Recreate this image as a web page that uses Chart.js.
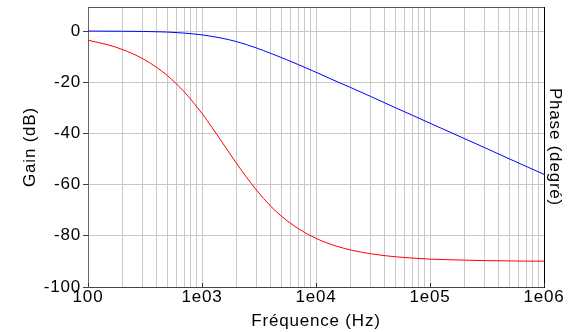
<!DOCTYPE html>
<html>
<head>
<meta charset="utf-8">
<script src="https://cdn.jsdelivr.net/npm/chart.js@4"></script>
<style>
  html, body { margin: 0; padding: 0; background: #fff; }
  #wrap { width: 577px; height: 332px; position: relative; }
</style>
</head>
<body>
<div id="wrap"><canvas id="chart_bode"></canvas></div>
<script>
// valeurs
var freq  = [100, 150, 200, 300, 400, 500, 700, 1000, 1500, 2000, 3000, 4000, 5000, 7000,
             1e4, 1.5e4, 2e4, 3e4, 5e4, 7e4, 1e5, 2e5, 3e5, 5e5, 7e5, 1e6];
var gain  = [0, -0.04, -0.07, -0.15, -0.27, -0.4, -0.8, -1.5, -2.8, -4.1, -6.6, -8.7, -10.4, -13.1,
             -16.1, -19.6, -22.0, -25.5, -30.0, -32.9, -36.0, -42.0, -45.5, -50.0, -52.9, -56.0];
var phase = [-3.6, -5.4, -7.2, -10.7, -14.2, -17.5, -23.8, -32.2, -43.4, -51.6, -62.1, -68.4, -72.4, -77.2,
             -81.0, -84.0, -85.5, -87.0, -88.2, -88.7, -89.1, -89.5, -89.7, -89.8, -89.9, -89.9];

var xMajor = [100, 1000, 10000, 100000, 1000000];
var xTickLabels = ["100", "1e03", "1e04", "1e05", "1e06"];
var yTicks = [-100, -80, -60, -40, -20, 0];

function toPoints(ys) {
  var pts = [];
  for (var i = 0; i < freq.length; i++) {
    pts.push({ x: freq[i], y: ys[i] });
  }
  return pts;
}

// grille log : 1..9 pour chaque décade
function xGridValues() {
  var vals = [];
  for (var d = 0; d < xMajor.length - 1; d++) {
    for (var k = 1; k < 10; k++) vals.push(xMajor[d] * k);
  }
  vals.push(xMajor[xMajor.length - 1]);
  return vals;
}

function noPad(scale) {
  scale.paddingTop = 0;
  scale.paddingBottom = 0;
  scale.paddingLeft = 0;
  scale.paddingRight = 0;
}

// texte un peu espacé comme sur l'original
var spacing = {
  id: 'spacing',
  beforeLayout: function (chart) { chart.ctx.letterSpacing = '0.8px'; },
  beforeDraw: function (chart) { chart.ctx.letterSpacing = '0.8px'; }
};

var frame = {
  id: 'frame',
  afterDraw: function (chart) {
    var ctx = chart.ctx, a = chart.chartArea, xs = chart.scales.x;
    ctx.save();
    ctx.lineWidth = 1;
    ctx.strokeStyle = '#555';
    ctx.beginPath();
    ctx.moveTo(a.left, a.top + 0.5);
    ctx.lineTo(a.right, a.top + 0.5);
    ctx.stroke();
    // petits traits des décades vers l'intérieur
    ctx.strokeStyle = '#333';
    for (var i = 0; i < xMajor.length; i++) {
      var px = Math.round(xs.getPixelForValue(xMajor[i])) + 0.5;
      ctx.beginPath();
      ctx.moveTo(px, a.bottom);
      ctx.lineTo(px, a.bottom - 4);
      ctx.stroke();
    }
    ctx.restore();
  }
};

var font = { family: "'Liberation Sans', Arial, sans-serif", size: 17 };

new Chart(document.getElementById("chart_bode"), {
  type: 'line',
  data: {
    datasets: [{
      label: "Gain",
      data: toPoints(gain),
      borderColor: "#0000ff",
      borderWidth: 1,
      pointRadius: 0,
      cubicInterpolationMode: 'monotone',
      yAxisID: 'y'
    }, {
      label: "Phase",
      data: toPoints(phase),
      borderColor: "#ff0000",
      borderWidth: 1,
      pointRadius: 0,
      cubicInterpolationMode: 'monotone',
      yAxisID: 'y'
    }]
  },
  options: {
    responsive: true,
    maintainAspectRatio: false,
    animation: false,
    layout: { padding: { top: 7, left: 0, right: 0, bottom: 0 } },
    plugins: {
      legend: { display: false },
      tooltip: { enabled: false }
    },
    scales: {
      x: {
        type: 'logarithmic',
        min: 100,
        max: 1e6,
        afterBuildTicks: function (scale) {
          scale.ticks = xGridValues().map(function (v) { return { value: v }; });
        },
        afterFit: function (scale) { scale.height = 45; noPad(scale); },
        ticks: {
          autoSkip: false,
          maxRotation: 0,
          padding: 0,
          color: '#000',
          font: font,
          callback: function (value) {
            var i = xMajor.indexOf(value);
            return i >= 0 ? xTickLabels[i] : '';
          }
        },
        grid: { color: '#c8c8c8', tickLength: 0 },
        border: { color: '#444' },
        title: {
          display: true,
          text: 'Fréquence (Hz)',
          color: '#000',
          font: font,
          padding: { top: 1.8, bottom: 0 }
        }
      },
      y: {
        position: 'left',
        min: -100,
        max: 9.4,
        afterBuildTicks: function (scale) {
          scale.ticks = yTicks.map(function (v) { return { value: v }; });
        },
        afterFit: function (scale) { scale.width = 88; noPad(scale); },
        ticks: { color: '#000', font: font, padding: 2 },
        grid: { color: '#c8c8c8', tickLength: 5, tickColor: '#444' },
        border: { color: '#666' },
        title: {
          display: true,
          text: 'Gain (dB)',
          color: '#000',
          font: font,
          padding: { top: 19.8, bottom: 0 }
        }
      },
      y2: {
        position: 'right',
        min: -100,
        max: 9.4,
        afterFit: function (scale) { scale.width = 33; noPad(scale); },
        ticks: { display: false },
        grid: { drawOnChartArea: false, drawTicks: false },
        border: { color: '#000' },
        title: {
          display: true,
          text: 'Phase (degré)',
          color: '#000',
          font: font,
          padding: { top: 11.8, bottom: 0 }
        }
      }
    }
  },
  plugins: [spacing, frame]
});
</script>
</body>
</html>
